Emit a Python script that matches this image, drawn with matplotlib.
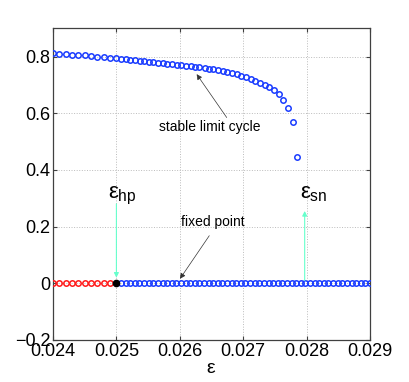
import matplotlib
matplotlib.use("Agg")
import matplotlib.pyplot as plt
import numpy as np

plt.rcParams['font.family'] = ['Liberation Sans', 'DejaVu Sans']
plt.rcParams['mathtext.fontset'] = 'custom'
plt.rcParams['mathtext.rm'] = 'Liberation Sans'
plt.rcParams['mathtext.it'] = 'Liberation Sans'

# fixed point branch (v = 0)
eps_fp_unstable = [0.0240, 0.0241, 0.0242, 0.0243, 0.0244, 0.0245, 0.0246, 0.0247, 0.0248, 0.0249]
eps_hopf = 0.025
eps_fp_stable = np.linspace(0.025, 0.029, 56)[1:]   # continuation grid after the Hopf point

# stable limit cycle amplitude
eps_lc = [0.0240, 0.0241, 0.0242, 0.0243, 0.0244, 0.0245, 0.0246, 0.0247, 0.0248, 0.0249,
          0.02500, 0.02507, 0.02515, 0.02522, 0.02529, 0.02537, 0.02544, 0.02551, 0.02558, 0.02566,
          0.02573, 0.02580, 0.02588, 0.02595, 0.02602, 0.02610, 0.02617, 0.02624, 0.02631, 0.02639,
          0.02646, 0.02653, 0.02661, 0.02668, 0.02675, 0.02683, 0.02690, 0.02697, 0.02705, 0.02712,
          0.02719, 0.02726, 0.02734, 0.02741, 0.02748, 0.02756, 0.02763, 0.02770, 0.02778, 0.02785]
v_lc = [0.812, 0.810, 0.809, 0.807, 0.806, 0.804, 0.802, 0.800, 0.798, 0.796,
        0.794, 0.7925, 0.791, 0.789, 0.7875, 0.786, 0.784, 0.7825, 0.781, 0.779,
        0.777, 0.7755, 0.774, 0.772, 0.770, 0.768, 0.766, 0.764, 0.762, 0.760,
        0.7575, 0.755, 0.752, 0.749, 0.746, 0.742, 0.738, 0.733, 0.727, 0.721,
        0.714, 0.707, 0.700, 0.692, 0.682, 0.668, 0.647, 0.619, 0.568, 0.446]

eps_sn = 0.02797

xticks = [0.024, 0.025, 0.026, 0.027, 0.028, 0.029]
xticklabels = ['0.024', '0.025', '0.026', '0.027', '0.028', '0.029']
yticks = [-0.2, 0, 0.2, 0.4, 0.6, 0.8]
yticklabels = ['\u22120.2', '0', '0.2', '0.4', '0.6', '0.8']

fig = plt.figure(figsize=(4.09, 3.82), dpi=100)
ax = fig.add_axes([0.1296, 0.110, 0.775, 0.816])

blue = '#1a3cff'
ms = 3.9
ax.plot(eps_lc, v_lc, 'o', mfc='none', mec=blue, ms=ms, mew=1.1, zorder=3)
ax.plot(eps_fp_unstable, np.zeros(len(eps_fp_unstable)), 'o', mfc='none', mec='#ff1a1a', ms=ms, mew=1.1, zorder=3)
ax.plot(eps_fp_stable, np.zeros(len(eps_fp_stable)), 'o', mfc='none', mec=blue, ms=ms, mew=1.1, zorder=3)
ax.plot([eps_hopf], [0], 'o', color='k', ms=4.5, zorder=4)

# bifurcation markers
green = '#66ffcc'
ax.annotate('', xy=(eps_hopf, 0.01), xytext=(eps_hopf, 0.29),
            arrowprops=dict(arrowstyle='-|>', color=green, lw=0.8, mutation_scale=7))
ax.annotate('', xy=(eps_sn, 0.265), xytext=(eps_sn, 0.0),
            arrowprops=dict(arrowstyle='-|>', color=green, lw=0.8, mutation_scale=7))
ax.text(0.024868, 0.30, r'$\varepsilon_{hp}$', fontsize=16, ha='left', va='baseline')
ax.text(0.027896, 0.30, r'$\varepsilon_{sn}$', fontsize=16, ha='left', va='baseline')

# labels with pointers
ax.text(0.02648, 0.552, 'stable limit cycle', fontsize=10, ha='center', va='center')
ax.annotate('', xy=(0.026266, 0.738), xytext=(0.02674, 0.585),
            arrowprops=dict(arrowstyle='-|>', color='#333333', lw=0.5, mutation_scale=8,
                            shrinkA=0, shrinkB=0))
ax.text(0.02652, 0.216, 'fixed point', fontsize=10, ha='center', va='center')
ax.annotate('', xy=(0.026003, 0.016), xytext=(0.026465, 0.168),
            arrowprops=dict(arrowstyle='-|>', color='#333333', lw=0.5, mutation_scale=8,
                            shrinkA=0, shrinkB=0))

ax.set_xlim(0.024, 0.029)
ax.set_ylim(-0.2, 0.9)
ax.set_xticks(xticks)
ax.set_xticklabels(xticklabels, fontsize=13)
ax.set_yticks(yticks)
ax.set_yticklabels(yticklabels, fontsize=13)
ax.tick_params(direction='in', top=True, right=True, length=3, color='#404040', pad=2)
ax.grid(True, linestyle=':', color='#bbbbbb', lw=0.7)
for s in ax.spines.values():
    s.set_color('#404040')
    s.set_linewidth(0.9)

ax.set_xlabel(r'$\varepsilon$', fontsize=14, labelpad=0)
ax.set_ylabel('v', fontsize=14, labelpad=14)

fig.savefig('out.png', dpi=100)
